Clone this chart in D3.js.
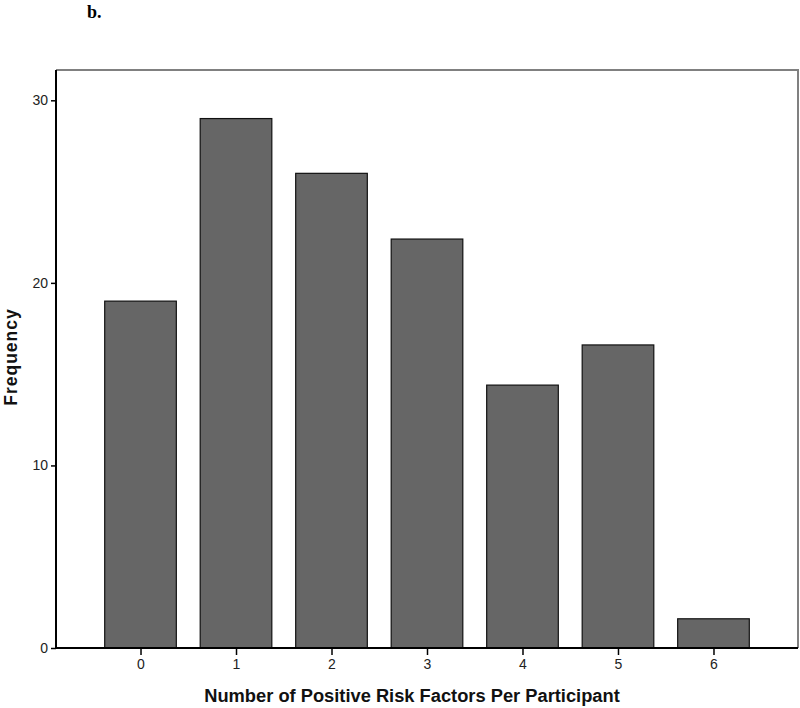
<!DOCTYPE html>
<html>
<head>
<meta charset="utf-8">
<script src="https://cdn.jsdelivr.net/npm/d3@7"></script>
<style>
  body { margin: 0; background: #fff; }
  .axis text { font-family: "Liberation Sans", Arial, sans-serif; font-size: 14px; fill: #222; }
  .axis path, .axis line { stroke: #000; }
</style>
</head>
<body>
<script>
// values
var riskFactors = [0, 1, 2, 3, 4, 5, 6];
var frequency = [19, 29, 26, 22.4, 14.4, 16.6, 1.6];
var yTicks = [0, 10, 20, 30];

var W = 800, H = 708;
var margin = { top: 70, right: 2, bottom: 60, left: 56 },
  width = W - margin.left - margin.right,
  height = H - margin.top - margin.bottom;

var svg = d3.select('body')
  .append('svg')
  .attr('width', W)
  .attr('height', H);

svg.append('text')
  .attr('x', 87)
  .attr('y', 18)
  .style('font-family', '"Liberation Serif", "Times New Roman", serif')
  .style('font-weight', 'bold')
  .style('font-size', '18px')
  .text('b.');

var g = svg.append('g')
  .attr('transform', 'translate(' + margin.left + ',' + margin.top + ')');

var xScale = d3.scaleLinear()
  .domain([-0.885, 6.885])
  .range([0, width]);

var yScale = d3.scaleLinear()
  .domain([0, 31.66])
  .range([height, 0]);

var barW = xScale(0.75) - xScale(0);

// frame (top and right in grey)
g.append('path')
  .attr('d', 'M0,0H' + width + 'V' + height)
  .attr('fill', 'none')
  .attr('stroke', '#808080')
  .attr('stroke-width', 2);

g.selectAll('.bar')
  .data(frequency)
  .enter()
  .append('rect')
  .attr('class', 'bar')
  .attr('x', function (d, i) { return xScale(riskFactors[i]) - barW / 2; })
  .attr('y', function (d) { return yScale(d); })
  .attr('width', barW)
  .attr('height', function (d) { return height - yScale(d); })
  .attr('fill', '#666666')
  .attr('stroke', '#111')
  .attr('stroke-width', 1.2);

var xAxis = d3.axisBottom(xScale)
  .tickValues(riskFactors)
  .tickSize(7)
  .tickPadding(4)
  .tickFormat(d3.format('d'));

var yAxis = d3.axisLeft(yScale)
  .tickValues(yTicks)
  .tickSize(5)
  .tickPadding(3)
  .tickFormat(d3.format('d'));

g.append('g')
  .attr('class', 'x axis')
  .attr('transform', 'translate(0,' + height + ')')
  .call(xAxis)
  .call(function (s) {
    s.select('.domain').attr('stroke-width', 2).attr('d', 'M0,0H' + width);
    s.selectAll('.tick line').attr('stroke-width', 1.5);
  });

g.append('g')
  .attr('class', 'y axis')
  .call(yAxis)
  .call(function (s) {
    s.select('.domain').attr('stroke-width', 2).attr('d', 'M0,0V' + height);
    s.selectAll('.tick line').attr('stroke-width', 1.5);
  });

svg.append('text')
  .attr('x', 412)
  .attr('y', 702)
  .attr('text-anchor', 'middle')
  .style('font-family', '"Liberation Sans", Arial, sans-serif')
  .style('font-weight', 'bold')
  .style('font-size', '18.3px')
  .style('fill', '#111')
  .text('Number of Positive Risk Factors Per Participant');

svg.append('text')
  .attr('transform', 'translate(16.5,357) rotate(-90)')
  .attr('text-anchor', 'middle')
  .style('font-family', '"Liberation Sans", Arial, sans-serif')
  .style('font-weight', 'bold')
  .style('font-size', '17.5px')
  .style('letter-spacing', '1px')
  .style('fill', '#111')
  .text('Frequency');
</script>
</body>
</html>
